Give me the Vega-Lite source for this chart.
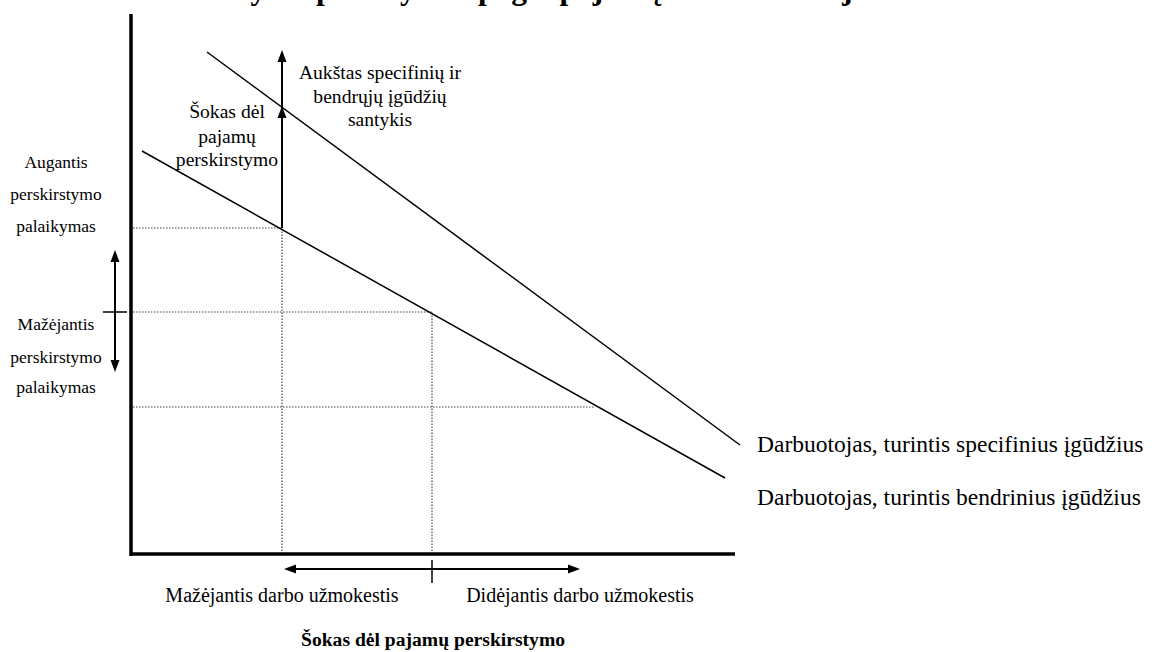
{
  "$schema": "https://vega.github.io/schema/vega-lite/v6.json",
  "width": 1154,
  "height": 652,
  "padding": 0,
  "autosize": {"type": "fit", "contains": "padding"},
  "background": "white",
  "config": {"view": {"stroke": null}},
  "datasets": {
    "segments": [
      {"kind": "axis", "x1": 1, "y1": -2, "x2": 1, "y2": 540},
      {"kind": "axis", "x1": 0, "y1": 0, "x2": 605, "y2": 0},
      {"kind": "curve", "x1": 77, "y1": 502, "x2": 610, "y2": 109},
      {"kind": "curve", "x1": 12, "y1": 403, "x2": 595, "y2": 76},
      {"kind": "dotted", "x1": 0, "y1": 326, "x2": 152, "y2": 326},
      {"kind": "dotted", "x1": 0, "y1": 242, "x2": 302, "y2": 242},
      {"kind": "dotted", "x1": 0, "y1": 147, "x2": 465, "y2": 147},
      {"kind": "dotted", "x1": 152, "y1": 0, "x2": 152, "y2": 326},
      {"kind": "dotted", "x1": 302, "y1": 0, "x2": 302, "y2": 242},
      {"kind": "shaft", "x1": 152, "y1": 326, "x2": 152, "y2": 494},
      {"kind": "shaft", "x1": -15, "y1": 294, "x2": -15, "y2": 192},
      {"kind": "shaft", "x1": 164, "y1": -15, "x2": 440, "y2": -15},
      {"kind": "tick", "x1": -27, "y1": 242, "x2": -3, "y2": 242},
      {"kind": "tick", "x1": 302, "y1": -6, "x2": 302, "y2": -29}
    ],
    "heads": [
      {"x": 152, "y": 448, "dir": "up"},
      {"x": 152, "y": 504, "dir": "up"},
      {"x": -15, "y": 304, "dir": "up"},
      {"x": -15, "y": 182, "dir": "down"},
      {"x": 154, "y": -15, "dir": "left"},
      {"x": 450, "y": -15, "dir": "right"}
    ],
    "labels": [
      {"grp": "title", "x": -2, "y": 555.5, "text": "Perskirstymo palaikymas pagal pajamų ir kvalifikacijos"},
      {"grp": "left", "x": -74, "y": 391, "text": "Augantis"},
      {"grp": "left", "x": -74, "y": 359, "text": "perskirstymo"},
      {"grp": "left", "x": -74, "y": 327, "text": "palaikymas"},
      {"grp": "left", "x": -74, "y": 229, "text": "Mažėjantis"},
      {"grp": "left", "x": -74, "y": 196, "text": "perskirstymo"},
      {"grp": "left", "x": -74, "y": 166, "text": "palaikymas"},
      {"grp": "mid", "x": 97, "y": 442, "text": "Šokas dėl"},
      {"grp": "mid", "x": 97, "y": 417, "text": "pajamų"},
      {"grp": "mid", "x": 97, "y": 394, "text": "perskirstymo"},
      {"grp": "mid", "x": 250, "y": 481, "text": "Aukštas specifinių ir"},
      {"grp": "mid", "x": 250, "y": 457, "text": "bendrųjų įgūdžių"},
      {"grp": "mid", "x": 250, "y": 434, "text": "santykis"},
      {"grp": "right", "x": 627, "y": 109, "text": "Darbuotojas, turintis specifinius įgūdžius"},
      {"grp": "right", "x": 627, "y": 56, "text": "Darbuotojas, turintis bendrinius įgūdžius"},
      {"grp": "bottom", "x": 152, "y": -42, "text": "Mažėjantis darbo užmokestis"},
      {"grp": "bottom", "x": 450, "y": -42, "text": "Didėjantis darbo užmokestis"},
      {"grp": "bold", "x": 303, "y": -86, "text": "Šokas dėl pajamų perskirstymo"}
    ]
  },
  "layer": [
    {
      "data": {"name": "segments"},
      "transform": [{"filter": "datum.kind === 'dotted'"}],
      "mark": {"type": "rule", "color": "#444444", "strokeWidth": 1.2, "strokeDash": [1.5, 1.5], "clip": true},
      "encoding": {
        "x": {"field": "x1", "type": "quantitative", "scale": {"domain": [-130, 1024], "nice": false, "zero": false}, "axis": null},
        "y": {"field": "y1", "type": "quantitative", "scale": {"domain": [-98, 554], "nice": false, "zero": false}, "axis": null},
        "x2": {"field": "x2"},
        "y2": {"field": "y2"}
      }
    },
    {
      "data": {"name": "segments"},
      "transform": [{"filter": "datum.kind === 'axis'"}],
      "mark": {"type": "rule", "color": "black", "strokeWidth": 3.5, "clip": true},
      "encoding": {
        "x": {"field": "x1", "type": "quantitative", "scale": {"domain": [-130, 1024], "nice": false, "zero": false}, "axis": null},
        "y": {"field": "y1", "type": "quantitative", "scale": {"domain": [-98, 554], "nice": false, "zero": false}, "axis": null},
        "x2": {"field": "x2"},
        "y2": {"field": "y2"}
      }
    },
    {
      "data": {"name": "segments"},
      "transform": [{"filter": "datum.kind === 'curve'"}],
      "mark": {"type": "rule", "color": "black", "strokeWidth": 1.5, "clip": true},
      "encoding": {
        "x": {"field": "x1", "type": "quantitative", "scale": {"domain": [-130, 1024], "nice": false, "zero": false}, "axis": null},
        "y": {"field": "y1", "type": "quantitative", "scale": {"domain": [-98, 554], "nice": false, "zero": false}, "axis": null},
        "x2": {"field": "x2"},
        "y2": {"field": "y2"}
      }
    },
    {
      "data": {"name": "segments"},
      "transform": [{"filter": "datum.kind === 'shaft'"}],
      "mark": {"type": "rule", "color": "black", "strokeWidth": 2, "clip": true},
      "encoding": {
        "x": {"field": "x1", "type": "quantitative", "scale": {"domain": [-130, 1024], "nice": false, "zero": false}, "axis": null},
        "y": {"field": "y1", "type": "quantitative", "scale": {"domain": [-98, 554], "nice": false, "zero": false}, "axis": null},
        "x2": {"field": "x2"},
        "y2": {"field": "y2"}
      }
    },
    {
      "data": {"name": "segments"},
      "transform": [{"filter": "datum.kind === 'tick'"}],
      "mark": {"type": "rule", "color": "black", "strokeWidth": 1.5, "clip": true},
      "encoding": {
        "x": {"field": "x1", "type": "quantitative", "scale": {"domain": [-130, 1024], "nice": false, "zero": false}, "axis": null},
        "y": {"field": "y1", "type": "quantitative", "scale": {"domain": [-98, 554], "nice": false, "zero": false}, "axis": null},
        "x2": {"field": "x2"},
        "y2": {"field": "y2"}
      }
    },
    {
      "data": {"name": "heads"},
      "mark": {"type": "point", "filled": true, "color": "black", "opacity": 1, "size": 576, "strokeWidth": 0, "clip": true},
      "encoding": {
        "x": {"field": "x", "type": "quantitative", "scale": {"domain": [-130, 1024], "nice": false, "zero": false}, "axis": null},
        "y": {"field": "y", "type": "quantitative", "scale": {"domain": [-98, 554], "nice": false, "zero": false}, "axis": null},
        "shape": {
          "field": "dir",
          "type": "nominal",
          "legend": null,
          "scale": {
            "domain": ["up", "down", "left", "right"],
            "range": ["M0,0L0.375,1L-0.375,1Z", "M0,0L0.375,-1L-0.375,-1Z", "M0,0L1,0.375L1,-0.375Z", "M0,0L-1,0.375L-1,-0.375Z"]
          }
        }
      }
    },
    {
      "data": {"name": "labels"},
      "transform": [{"filter": "datum.grp === 'title'"}],
      "mark": {"type": "text", "font": "Liberation Serif", "fontSize": 31.5, "fontWeight": "bold", "align": "left", "baseline": "alphabetic", "color": "black", "clip": true},
      "encoding": {
        "x": {"field": "x", "type": "quantitative", "scale": {"domain": [-130, 1024], "nice": false, "zero": false}, "axis": null},
        "y": {"field": "y", "type": "quantitative", "scale": {"domain": [-98, 554], "nice": false, "zero": false}, "axis": null},
        "text": {"field": "text"}
      }
    },
    {
      "data": {"name": "labels"},
      "transform": [{"filter": "datum.grp === 'left'"}],
      "mark": {"type": "text", "font": "Liberation Serif", "fontSize": 17.5, "align": "center", "baseline": "middle", "color": "black", "clip": true},
      "encoding": {
        "x": {"field": "x", "type": "quantitative", "scale": {"domain": [-130, 1024], "nice": false, "zero": false}, "axis": null},
        "y": {"field": "y", "type": "quantitative", "scale": {"domain": [-98, 554], "nice": false, "zero": false}, "axis": null},
        "text": {"field": "text"}
      }
    },
    {
      "data": {"name": "labels"},
      "transform": [{"filter": "datum.grp === 'mid'"}],
      "mark": {"type": "text", "font": "Liberation Serif", "fontSize": 19.6, "align": "center", "baseline": "middle", "color": "black", "clip": true},
      "encoding": {
        "x": {"field": "x", "type": "quantitative", "scale": {"domain": [-130, 1024], "nice": false, "zero": false}, "axis": null},
        "y": {"field": "y", "type": "quantitative", "scale": {"domain": [-98, 554], "nice": false, "zero": false}, "axis": null},
        "text": {"field": "text"}
      }
    },
    {
      "data": {"name": "labels"},
      "transform": [{"filter": "datum.grp === 'right'"}],
      "mark": {"type": "text", "font": "Liberation Serif", "fontSize": 23.5, "align": "left", "baseline": "middle", "color": "black", "clip": true},
      "encoding": {
        "x": {"field": "x", "type": "quantitative", "scale": {"domain": [-130, 1024], "nice": false, "zero": false}, "axis": null},
        "y": {"field": "y", "type": "quantitative", "scale": {"domain": [-98, 554], "nice": false, "zero": false}, "axis": null},
        "text": {"field": "text"}
      }
    },
    {
      "data": {"name": "labels"},
      "transform": [{"filter": "datum.grp === 'bottom'"}],
      "mark": {"type": "text", "font": "Liberation Serif", "fontSize": 20, "align": "center", "baseline": "middle", "color": "black", "clip": true},
      "encoding": {
        "x": {"field": "x", "type": "quantitative", "scale": {"domain": [-130, 1024], "nice": false, "zero": false}, "axis": null},
        "y": {"field": "y", "type": "quantitative", "scale": {"domain": [-98, 554], "nice": false, "zero": false}, "axis": null},
        "text": {"field": "text"}
      }
    },
    {
      "data": {"name": "labels"},
      "transform": [{"filter": "datum.grp === 'bold'"}],
      "mark": {"type": "text", "font": "Liberation Serif", "fontSize": 19.6, "fontWeight": "bold", "align": "center", "baseline": "middle", "color": "black", "clip": true},
      "encoding": {
        "x": {"field": "x", "type": "quantitative", "scale": {"domain": [-130, 1024], "nice": false, "zero": false}, "axis": null},
        "y": {"field": "y", "type": "quantitative", "scale": {"domain": [-98, 554], "nice": false, "zero": false}, "axis": null},
        "text": {"field": "text"}
      }
    }
  ]
}
